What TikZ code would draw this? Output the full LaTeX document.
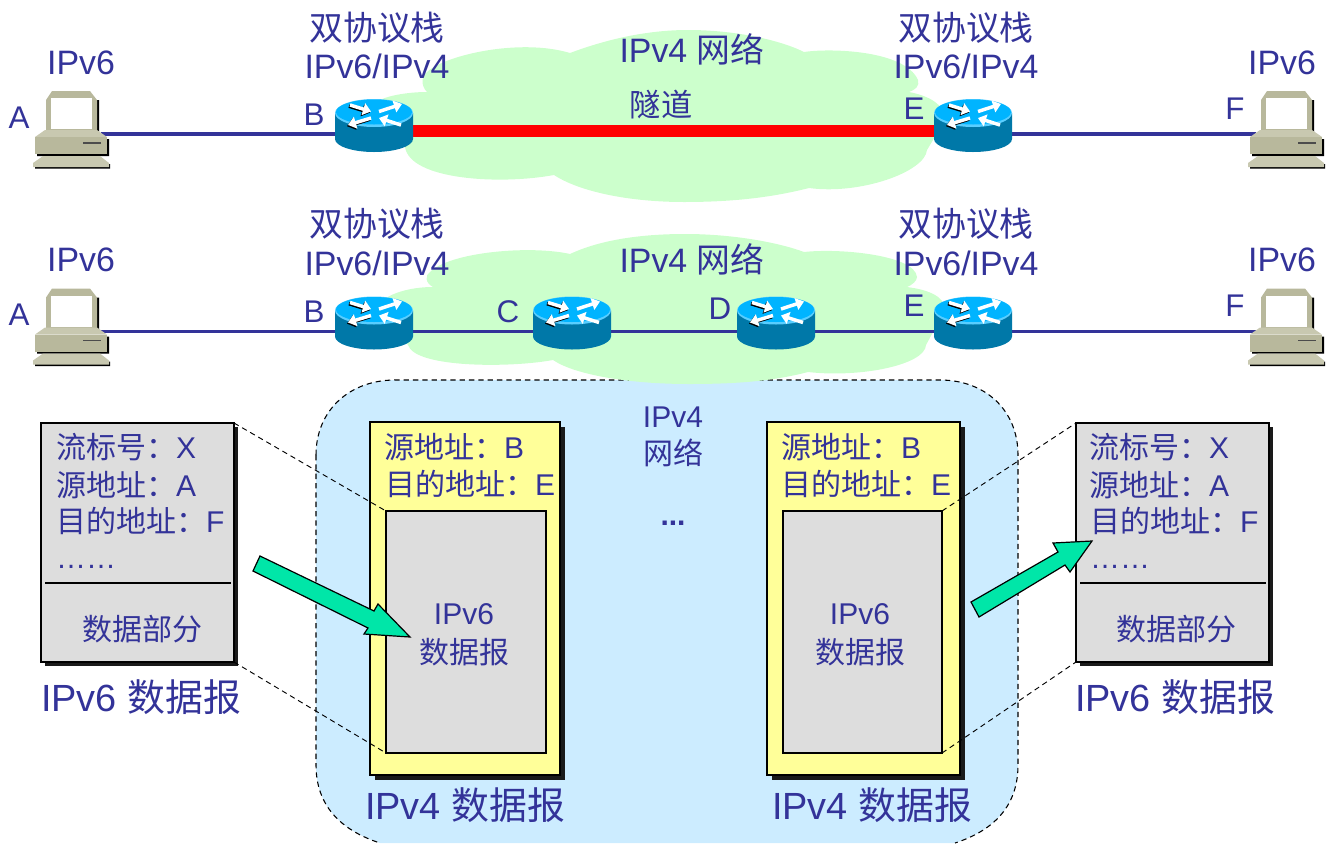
\documentclass[tikz,border=0pt]{standalone}
\usepackage{fontspec}
\setmainfont{Liberation Sans}
\newfontfamily\cjk{Noto Sans CJK SC}
\usetikzlibrary{arrows.meta}
\definecolor{ink}{HTML}{333399}
\definecolor{cloudc}{HTML}{CCFFCC}
\definecolor{bluebg}{HTML}{CCECFF}
\definecolor{yel}{HTML}{FFFF99}
\definecolor{gry}{HTML}{DDDDDD}
\definecolor{arrowc}{HTML}{00E6A8}
\definecolor{rtop}{HTML}{00B4FF}
\definecolor{rside}{HTML}{0078A8}
\definecolor{pcdark}{HTML}{B8B89C}
\definecolor{pclight}{HTML}{C8C8B0}
\definecolor{shad}{HTML}{1A1A1A}
\tikzset{
  lab/.style={text=ink,font=\fontsize{25.4}{25.4}\selectfont,inner sep=0pt,outer sep=0pt},
  labbig/.style={text=ink,font=\fontsize{28.4}{28.4}\selectfont,inner sep=0pt,outer sep=0pt},
  labmid/.style={text=ink,font=\fontsize{23.5}{23.5}\selectfont,inner sep=0pt,outer sep=0pt},
  labs/.style={text=ink,font=\fontsize{22.5}{22.5}\selectfont,inner sep=0pt,outer sep=0pt},
  link/.style={draw=ink,line width=2.7pt},
  tunnel/.style={draw=red,line width=9pt},
  dashlink/.style={draw=black,line width=.7pt,dash pattern=on 4pt off 3pt},
  slot/.style={inner sep=0pt,outer sep=0pt,minimum width=58.5pt,minimum height=28.5pt},
  pcslot/.style={inner sep=0pt,outer sep=0pt,minimum width=45pt,minimum height=30pt},
  box/.style={draw=black,line width=.8pt,inner sep=0pt,outer sep=0pt},
  rarrow/.style={white,line width=2.6pt,-{Triangle[length=6pt,width=9pt]}},
  rshade/.style={black,line width=2.6pt,-{Triangle[length=6pt,width=9pt]}},
  bigarrow/.style={draw=black,line width=.9pt,fill=arrowc,line join=miter},
  router/.pic={
    \begin{scope}[shift={(0,-1)}]
    \fill[rside] (-39,-20) -- (-39,6) arc[start angle=180,end angle=0,x radius=39,y radius=13] -- (39,-20) -- cycle;
    \fill[rtop!65!white] (0,-20) ellipse[x radius=39,y radius=14];
    \fill[rtop] (0,-21) ellipse[x radius=38,y radius=12.5];
    \begin{scope}[shift={(-1,1.2)}]
      \draw[rshade] (-24,-28) -- (-3,-21.5);
      \draw[rshade] (-3,-15) -- (-26,-8);
    \end{scope}
    \draw[rarrow] (-24,-28) -- (-3,-21.5);
    \draw[rarrow] (5,-21.5) -- (28,-29);
    \draw[rarrow] (-3,-15) -- (-26,-8);
    \draw[rarrow] (27,-8) -- (5,-15);
    \end{scope}
  },
  pcshape/.pic={
    \begin{scope}[shift={(0,-1)}]
    \fill[black] (-24,-31) -- (28,-33) -- (28,2) -- (-24,2) -- cycle;
    \fill[black] (-34,8) -- (38,6) -- (38,23) -- (-34,23) -- cycle;
    \fill[black] (-36,32) -- (39,31) -- (39,35.5) -- (-36,35.5) -- cycle;
    \fill[pcdark] (-25,-33) -- (-19,-42) -- (19,-42) -- (26,-33) -- (26,0) -- (-25,0) -- cycle;
    \fill[white] (-20,-35) rectangle (21,-4);
    \fill[pclight] (-36,4) -- (-26,-3) -- (26,-3) -- (36,4) -- cycle;
    \fill[pcdark] (-36,4) rectangle (36,21);
    \draw[black!70,line width=.8pt] (12,10) -- (30,10);
    \fill[pclight] (-28,23) -- (29,23) -- (38,30) -- (38,34) -- (-38,34) -- (-38,30) -- cycle;
    \end{scope}
  }
}
\begin{document}
\begin{tikzpicture}[x=.75pt,y=-.75pt]
\useasboundingbox (0,0) rectangle (1331,843);
% blue region
\fill[bluebg] (316,455) .. controls (316,410) and (350,380) .. (395,380) -- (940,380) .. controls (985,380) and (1018,410) .. (1018,455) -- (1018,765) .. controls (1018,805) and (995,830) .. (955,843) -- (380,843) .. controls (340,830) and (316,805) .. (316,765) -- cycle;
\draw[black,line width=.8pt,dash pattern=on 4pt off 3pt] (316,455) .. controls (316,410) and (350,380) .. (395,380) -- (940,380) .. controls (985,380) and (1018,410) .. (1018,455) -- (1018,765) .. controls (1018,805) and (995,830) .. (955,843);
\draw[black,line width=.8pt,dash pattern=on 4pt off 3pt] (316,455) -- (316,765) .. controls (316,805) and (340,830) .. (380,843);
% clouds
\fill[cloudc] (570,53) .. controls (610,38) and (650,30) .. (688,30) .. controls (735,30) and (780,40) .. (804,52) .. controls (830,48) and (905,50) .. (918,80) .. controls (920,86) and (915,90) .. (909,92) .. controls (930,96) and (945,105) .. (945,120) -- (927,150) .. controls (925,172) and (860,195) .. (809,188) .. controls (770,198) and (730,202) .. (684,202) .. controls (630,202) and (580,192) .. (554,175) .. controls (500,185) and (410,180) .. (405,147) -- (380,120) -- (380,100) .. controls (390,95) and (410,92) .. (427,92) .. controls (420,85) and (422,75) .. (427,72) .. controls (445,55) and (520,38) .. (570,53) -- cycle;
\fill[cloudc] (570,254) .. controls (600,240) and (640,234) .. (685,234) .. controls (735,234) and (780,243) .. (804,252) .. controls (840,248) and (915,255) .. (917,277) .. controls (917,281) and (912,285) .. (907,287) .. controls (930,290) and (945,297) .. (945,310) -- (926,345) .. controls (925,365) and (860,378) .. (808,372) .. controls (770,382) and (730,384) .. (689,384) .. controls (630,384) and (575,375) .. (553,360) .. controls (510,368) and (415,368) .. (408,345) -- (379,310) .. controls (375,300) and (400,287) .. (433,287) .. controls (425,283) and (425,275) .. (430,272) .. controls (450,252) and (530,245) .. (570,254) -- cycle;
% invisible device slots
\node[pcslot] (A1) at (71,134) {};
\node[pcslot] (F1) at (1286,134) {};
\node[slot] (B1) at (374,134) {};
\node[slot] (E1) at (973,134) {};
\node[pcslot] (A2) at (71,331.5) {};
\node[pcslot] (F2) at (1286,331.5) {};
\node[slot] (B2) at (374,331.5) {};
\node[slot] (C2) at (572,331.5) {};
\node[slot] (D2) at (776,331.5) {};
\node[slot] (E2) at (973,331.5) {};
% links
\draw[link] (A1) -- (B1);
\draw[link] (E1) -- (F1);
\draw[tunnel] ([yshift=2pt]B1.east) -- ([yshift=2pt]E1.west);
\draw[link] (A2) -- (B2);
\draw[link] (B2) -- (C2);
\draw[link] (C2) -- (D2);
\draw[link] (D2) -- (E2);
\draw[link] (E2) -- (F2);
% devices
\foreach \n in {B1,E1,B2,C2,D2,E2}{\pic at (\n) {router};}
\foreach \n in {A1,F1,A2,F2}{\pic at (\n) {pcshape};}
% packet boxes
\fill[shad] (45,427) rectangle (238,666);
\node[box,fill=gry,anchor=north west,minimum width=144.75pt,minimum height=179.25pt] (L) at (41,423) {};
\fill[shad] (1080,427) rectangle (1273,666);
\node[box,fill=gry,anchor=north west,minimum width=144.75pt,minimum height=179.25pt] (R) at (1076,423) {};
\fill[shad] (375,427) rectangle (565,780);
\node[box,fill=yel,anchor=north west,minimum width=142.5pt,minimum height=264.75pt] (Y1) at (370,422) {};
\node[box,fill=gry,anchor=north west,minimum width=120pt,minimum height=181.5pt] (G1) at (386,511) {};
\fill[shad] (772,427) rectangle (965,780);
\node[box,fill=yel,anchor=north west,minimum width=144.75pt,minimum height=264.75pt] (Y2) at (767,422) {};
\node[box,fill=gry,anchor=north west,minimum width=119.25pt,minimum height=181.5pt] (G2) at (783,511) {};
\coordinate (LDa) at (45,583);
\coordinate (LDb) at (231,583);
\coordinate (RDa) at (1080,583);
\coordinate (RDb) at (1266,583);
\draw[black,line width=.8pt] (LDa) -- (LDb);
\draw[black,line width=.8pt] (RDa) -- (RDb);
% dashed zoom lines
\draw[dashlink] (L.north east) -- (G1.north west);
\draw[dashlink] (L.south east) -- (G1.south west);
\draw[dashlink] (G2.north east) -- (R.north west);
\draw[dashlink] (G2.south east) -- (R.south west);
% big arrows
\draw[bigarrow] (260,556) -- (374,611) -- (378,604) -- (410,637) -- (364,634) -- (368,628) -- (253,571) -- cycle;
\draw[bigarrow] (971,602) -- (1058,552) -- (1053,543) -- (1092,541) -- (1070,572) -- (1065,565) -- (979,617) -- cycle;
% labels row 1
\node[lab] (t1) at (81,63) {IPv6};
\node[lab] (t2) at (1282,63) {IPv6};
\node[labmid] (t3) at (19,118) {A};
\node[labmid] (t4) at (314,115) {B};
\node[labmid] (t5) at (914,109) {E};
\node[labmid] (t6) at (1235,109) {F};
\node[lab] (t7) at (377,28) {\cjk 双协议栈};
\node[lab] (t8) at (377,66) {IPv6/IPv4};
\node[lab] (t9) at (966,28) {\cjk 双协议栈};
\node[lab] (t10) at (966,66) {IPv6/IPv4};
\node[lab] (t11) at (692,49) {IPv4 {\cjk 网络}};
\node[labmid] (t12) at (661,105) {\cjk 隧道};
% labels row 2
\node[lab] (u1) at (81,260) {IPv6};
\node[lab] (u2) at (1282,260) {IPv6};
\node[labmid] (u3) at (19,315) {A};
\node[labmid] (u4) at (314,312) {B};
\node[labmid] (u5) at (508,312) {C};
\node[labmid] (u6) at (720,309) {D};
\node[labmid] (u7) at (914,306) {E};
\node[labmid] (u8) at (1235,306) {F};
\node[lab] (u9) at (377,224) {\cjk 双协议栈};
\node[lab] (u10) at (377,263) {IPv6/IPv4};
\node[lab] (u11) at (966,224) {\cjk 双协议栈};
\node[lab] (u12) at (966,263) {IPv6/IPv4};
\node[lab] (u13) at (692,259) {IPv4 {\cjk 网络}};
% blue region text
\node[labs] (v1) at (673,417) {IPv4};
\node[labs] (v2) at (673,453) {\cjk 网络};
\node[labs,font=\fontsize{22.5}{22.5}\selectfont\bfseries] (v3) at (673,523) {...};
% left box
\node[labs,anchor=west] (p1) at (56,447) {{\cjk 流标号：}X};
\node[labs,anchor=west] (p2) at (56,485) {{\cjk 源地址：}A};
\node[labs,anchor=west] (p3) at (56,521) {{\cjk 目的地址：}F};
\node[labs,anchor=west] (p4) at (56,567) {……};
\node[labs] (p5) at (142,629) {\cjk 数据部分};
\node[labbig] (p6) at (141,697) {IPv6 {\cjk 数据报}};
% right box
\node[labs,anchor=west] (q1) at (1089,447) {{\cjk 流标号：}X};
\node[labs,anchor=west] (q2) at (1089,485) {{\cjk 源地址：}A};
\node[labs,anchor=west] (q3) at (1090,521) {{\cjk 目的地址：}F};
\node[labs,anchor=west] (q4) at (1090,567) {……};
\node[labs] (q5) at (1176,629) {\cjk 数据部分};
\node[labbig] (q6) at (1175,697) {IPv6 {\cjk 数据报}};
% yellow boxes
\node[labs,anchor=west] (r1) at (384,447) {{\cjk 源地址：}B};
\node[labs,anchor=west] (r2) at (385,484) {{\cjk 目的地址：}E};
\node[labs] (r3) at (464,614) {IPv6};
\node[labs] (r4) at (464,652) {\cjk 数据报};
\node[labbig] (r5) at (465,805) {IPv4 {\cjk 数据报}};
\node[labs,anchor=west] (s1) at (781,447) {{\cjk 源地址：}B};
\node[labs,anchor=west] (s2) at (781,484) {{\cjk 目的地址：}E};
\node[labs] (s3) at (860,614) {IPv6};
\node[labs] (s4) at (860,652) {\cjk 数据报};
\node[labbig] (s5) at (872,805) {IPv4 {\cjk 数据报}};
\end{tikzpicture}
\end{document}
